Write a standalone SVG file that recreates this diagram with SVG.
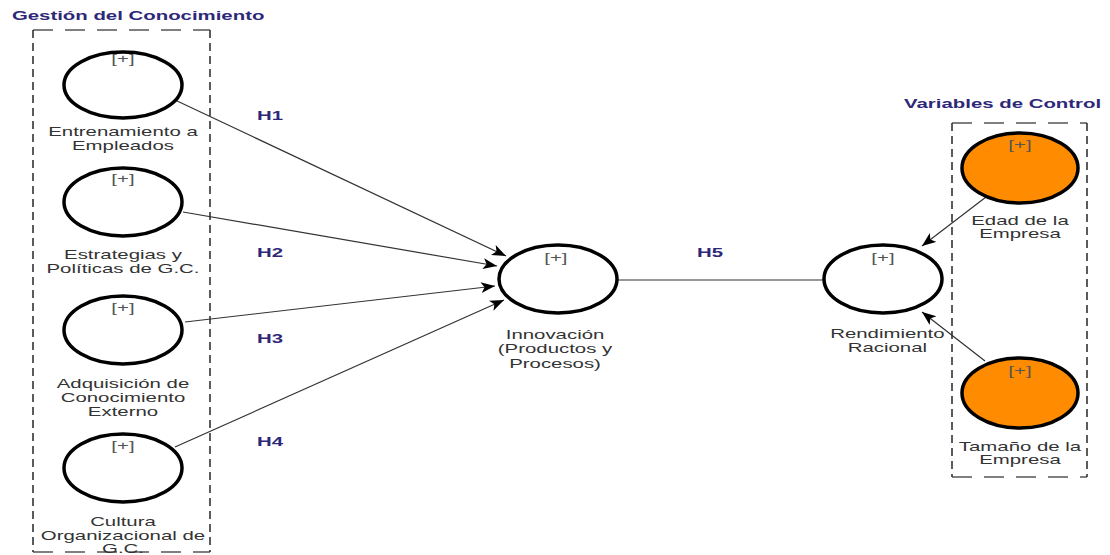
<svg xmlns="http://www.w3.org/2000/svg" width="1110" height="555" viewBox="0 0 1110 555">
<style>
.bg{fill:#fff}
.lv{fill:none;stroke:#000;stroke-width:3.5}
.ctl{fill:#FF8C00;stroke:#000;stroke-width:3.5}
.t{font-family:"Liberation Sans",Arial,Helvetica,sans-serif;font-size:12px;fill:#333;text-anchor:middle}
.p{font-family:"Liberation Sans",Arial,Helvetica,sans-serif;font-size:12px;fill:#555;text-anchor:middle}
.h{font-family:"Liberation Sans",Arial,Helvetica,sans-serif;font-size:12px;font-weight:bold;fill:#2e2878}
.dh{stroke:#555;stroke-width:1.6;stroke-dasharray:20 12;fill:none}
.dv{stroke:#333;stroke-width:1.6;stroke-dasharray:8 5;fill:none}
.c{stroke:#333;stroke-width:1.2;fill:none}
.ca{stroke:#333;stroke-width:1.2;fill:none;marker-end:url(#ah)}
</style>
<defs>
<marker id="ah" markerWidth="15" markerHeight="12" refX="14" refY="5.5" orient="auto" markerUnits="userSpaceOnUse">
<path d="M0,0 L14,5.5 L0,11 L3.5,5.5 z" fill="#000"/>
</marker>
</defs>
<rect class="bg" x="0" y="0" width="1110" height="555"/>

<g id="grupo-gestion">
<line class="dh" x1="33" y1="30" x2="210" y2="30"/>
<line class="dh" x1="33" y1="552" x2="210" y2="552"/>
<line class="dv" x1="33" y1="30" x2="33" y2="552"/>
<line class="dv" x1="210" y1="30" x2="210" y2="552"/>
<g transform="scale(1.7,1)"><text class="h" x="7" y="20">Gestión del Conocimiento</text></g>
</g>

<g id="grupo-control">
<line class="dh" x1="952" y1="123" x2="1087" y2="123"/>
<line class="dh" x1="952" y1="477" x2="1087" y2="477"/>
<line class="dv" x1="952" y1="123" x2="952" y2="477"/>
<line class="dv" x1="1087" y1="123" x2="1087" y2="477"/>
<g transform="scale(1.7,1)"><text class="h" x="531.8" y="108">Variables de Control</text></g>
</g>

<g id="conectores">
<line class="ca" x1="175" y1="100" x2="506" y2="256"/>
<line class="ca" x1="183" y1="212" x2="497" y2="266"/>
<line class="ca" x1="185" y1="322" x2="495" y2="286"/>
<line class="ca" x1="175" y1="447" x2="504" y2="300"/>
<line class="c" x1="617" y1="280" x2="824" y2="280"/>
<line class="ca" x1="986" y1="197" x2="922" y2="246"/>
<line class="ca" x1="985" y1="361" x2="922" y2="312"/>
<g transform="scale(1.7,1)">
<text class="h" x="151.2" y="120">H1</text>
<text class="h" x="151.2" y="257">H2</text>
<text class="h" x="151.2" y="343">H3</text>
<text class="h" x="151.2" y="446">H4</text>
<text class="h" x="410" y="257">H5</text>
</g>
</g>

<g id="entrenamiento">
<ellipse class="lv" cx="123" cy="85" rx="59" ry="33"/>
<g transform="scale(1.7,1)">
<text class="p" x="72.35" y="63">[+]</text>
<text class="t" x="72.35" y="136">Entrenamiento a</text>
<text class="t" x="72.35" y="150">Empleados</text>
</g>
</g>

<g id="estrategias">
<ellipse class="lv" cx="123" cy="202" rx="59" ry="34"/>
<g transform="scale(1.7,1)">
<text class="p" x="72.35" y="183">[+]</text>
<text class="t" x="72.35" y="259">Estrategias y</text>
<text class="t" x="72.35" y="273">Políticas de G.C.</text>
</g>
</g>

<g id="adquisicion">
<ellipse class="lv" cx="123" cy="330" rx="59" ry="34"/>
<g transform="scale(1.7,1)">
<text class="p" x="72.35" y="312">[+]</text>
<text class="t" x="72.35" y="388">Adquisición de</text>
<text class="t" x="72.35" y="402">Conocimiento</text>
<text class="t" x="72.35" y="416">Externo</text>
</g>
</g>

<g id="cultura">
<ellipse class="lv" cx="123" cy="468" rx="59" ry="34"/>
<g transform="scale(1.7,1)">
<text class="p" x="72.35" y="450">[+]</text>
<text class="t" x="72.35" y="526">Cultura</text>
<text class="t" x="72.35" y="540">Organizacional de</text>
<text class="t" x="72.35" y="553">G.C.</text>
</g>
</g>

<g id="innovacion">
<ellipse class="lv" cx="558" cy="279" rx="59" ry="34"/>
<g transform="scale(1.7,1)">
<text class="p" x="327" y="262">[+]</text>
<text class="t" x="326.5" y="339">Innovación</text>
<text class="t" x="326.5" y="353">(Productos y</text>
<text class="t" x="326.5" y="368">Procesos)</text>
</g>
</g>

<g id="rendimiento">
<ellipse class="lv" cx="883" cy="279" rx="59" ry="34"/>
<g transform="scale(1.7,1)">
<text class="p" x="519.4" y="262">[+]</text>
<text class="t" x="522" y="338">Rendimiento</text>
<text class="t" x="522" y="352">Racional</text>
</g>
</g>

<g id="edad">
<ellipse class="ctl" cx="1020" cy="168" rx="58" ry="35"/>
<g transform="scale(1.7,1)">
<text class="p" x="600" y="149">[+]</text>
<text class="t" x="600" y="225">Edad de la</text>
<text class="t" x="600" y="238">Empresa</text>
</g>
</g>

<g id="tamano">
<ellipse class="ctl" cx="1020" cy="393" rx="58" ry="35"/>
<g transform="scale(1.7,1)">
<text class="p" x="600" y="375">[+]</text>
<text class="t" x="600" y="451">Tamaño de la</text>
<text class="t" x="600" y="464">Empresa</text>
</g>
</g>
</svg>
